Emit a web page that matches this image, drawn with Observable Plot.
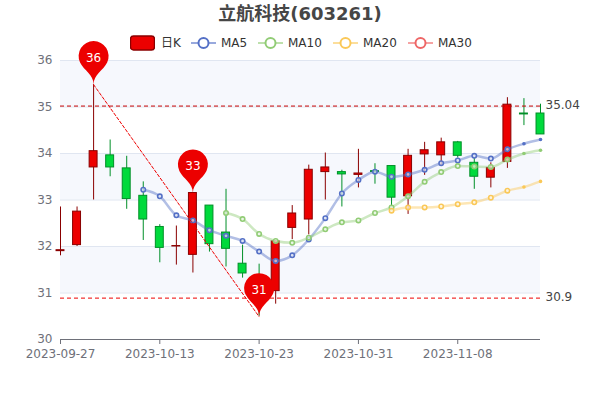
<!DOCTYPE html>
<html>
<head>
<meta charset="utf-8">
<script src="https://cdn.jsdelivr.net/npm/d3@7"></script>
<script src="https://cdn.jsdelivr.net/npm/@observablehq/plot@0.6"></script>
<style>
html,body{margin:0;padding:0;background:#fff;overflow:hidden}
#wrap{position:relative;width:600px;height:400px;font-family:"DejaVu Sans","Noto Sans CJK SC",sans-serif}
#title{position:absolute;left:0;width:600px;top:3px;text-align:center;font-size:18px;font-weight:bold;color:#464646;line-height:22px;font-family:"DejaVu Sans","Noto Sans CJK SC",sans-serif}
.lg{position:absolute;top:35px;height:16px;line-height:16px;font-size:12px;color:#333;white-space:nowrap}
.lg svg{position:absolute;top:0;left:0}
#chart{position:absolute;left:0;top:0}
</style>
</head>
<body>
<div id="wrap"><div id="chart"></div><div id="title">立航科技(603261)</div></div>
<script>
const dates = ["2023-09-27","2023-09-28","2023-10-09","2023-10-10","2023-10-11","2023-10-12","2023-10-13","2023-10-16","2023-10-17","2023-10-18","2023-10-19","2023-10-20","2023-10-23","2023-10-24","2023-10-25","2023-10-26","2023-10-27","2023-10-30","2023-10-31","2023-11-01","2023-11-02","2023-11-03","2023-11-06","2023-11-07","2023-11-08","2023-11-09","2023-11-10","2023-11-13","2023-11-14","2023-11-15"];
const open  = [31.90,32.03,33.70,33.96,33.68,33.09,32.42,32.00,31.82,32.88,32.30,31.63,31.30,31.04,32.40,32.58,33.60,33.60,33.54,33.62,33.73,33.08,33.98,33.96,34.24,33.80,33.48,33.82,34.86,34.86];
const close = [31.92,32.75,34.05,33.70,33.02,32.58,31.97,32.01,33.15,32.05,31.95,31.42,31.05,32.11,32.71,33.65,33.70,33.55,33.57,33.60,33.05,33.95,34.07,34.24,33.95,33.50,33.69,35.05,34.84,34.41];
const high  = [32.85,32.85,35.48,34.29,33.94,33.39,32.47,32.44,33.15,32.88,33.23,32.03,31.62,32.13,32.88,33.75,34.01,33.64,34.09,33.78,33.73,34.09,34.24,34.33,34.26,33.90,33.80,35.20,35.18,35.06];
const low   = [31.80,32.00,33.00,33.50,32.80,32.13,31.65,31.60,31.43,31.88,31.56,31.32,30.50,30.76,32.15,32.25,33.00,32.85,33.26,33.34,32.85,32.69,33.53,33.73,33.90,33.23,33.26,33.68,34.60,34.41];
const ma5  = [null,null,null,null,null,33.22,33.08,32.67,32.56,32.35,32.23,32.12,31.89,31.69,31.81,32.15,32.61,33.14,33.43,33.61,33.50,33.55,33.65,33.79,33.85,33.95,33.89,34.09,34.21,34.30];
const ma10 = [null,null,null,null,null,null,null,null,null,null,32.72,32.59,32.27,32.12,32.08,32.19,32.37,32.52,32.56,32.72,32.84,33.08,33.39,33.60,33.73,33.72,33.71,33.87,34.00,34.07];
const ma20 = [null,null,null,null,null,null,null,null,null,null,null,null,null,null,null,null,null,null,null,null,32.77,32.84,32.84,32.86,32.91,32.95,33.05,33.20,33.28,33.40];
const tickIndex = [0,6,12,18,24];
const yTicks = [30,31,32,33,34,35,36];
const bandStarts = [31,33,35];
const pinIndex = [2,8,12];
const pinValue = [35.48,33.15,30.49];
const pinLabel = ["36","33","31"];
const levelValue = [35.02,30.89];
const levelLabel = ["35.04","30.9"];
const legendNames = ["日K","MA5","MA10","MA20","MA30"];

const UP = "#ec0000", UPB = "#8a0000", DOWN = "#00da3c", DOWNB = "#008f28";
const BLUE = "#5470c6", GREEN = "#91cc75", YELLOW = "#fac858", PINK = "#ee6666";

const idx = d3.range(dates.length);
const isUp = i => close[i] >= open[i];
const halfBody = 0.24;

// ECharts-style "pin": origin is the tip
const pin = {draw(ctx){
  const w=30,h=50,r=w/2,dy=r*r/(h-r),cy=-h+r+dy,a=Math.asin(dy/r),dx=Math.cos(a)*r,tx=Math.sin(a),ty=Math.cos(a),c1=r*.6,c2=r*.7;
  ctx.moveTo(-dx,cy+dy);
  ctx.arc(0,cy,r,Math.PI-a,Math.PI*2+a);
  ctx.bezierCurveTo(dx-tx*c1,cy+dy+ty*c1,0,-c2,0,0);
  ctx.bezierCurveTo(0,-c2,-dx+tx*c1,cy+dy+ty*c1,-dx,cy+dy);
  ctx.closePath();
}};

function maMarks(values, color){
  const pts = idx.filter(i => values[i] != null);
  const lastSmall = i => i >= 28;
  return [
    Plot.line(pts,{x:i=>i,y:i=>values[i],stroke:color,strokeWidth:2.5,strokeOpacity:.45,curve:"monotone-x"}),
    Plot.dot(pts.filter(i=>!lastSmall(i)),{x:i=>i,y:i=>values[i],r:2.2,stroke:color,strokeWidth:1.6,fill:"#fff",fillOpacity:.6}),
    Plot.dot(pts.filter(lastSmall),{x:i=>i,y:i=>values[i],r:1.8,fill:color})
  ];
}

const chart = Plot.plot({
  width:600,height:400,
  marginLeft:60,marginRight:60,marginTop:60,marginBottom:61,
  style:{fontFamily:"DejaVu Sans",fontSize:"12px",background:"#fff",overflow:"visible"},
  x:{domain:[0,dates.length-1],axis:null},
  y:{domain:[30,36],axis:null},
  marks:[
    Plot.rect(bandStarts,{x1:0,x2:dates.length-1,y1:d=>d,y2:d=>d+1,fill:"#f6f8fd"}),
    Plot.ruleY(yTicks.slice(1),{stroke:"#e0e6f1"}),
    Plot.axisY({ticks:yTicks,anchor:"left",tickSize:0,tickPadding:8,tickFormat:d=>String(d),fill:"#6e7079",fontSize:12,label:null}),
    Plot.ruleY([30],{stroke:"#6e7079"}),
    Plot.axisX({ticks:tickIndex,anchor:"bottom",tickSize:5,tickPadding:5,tickFormat:i=>dates[i],stroke:"#6e7079",fill:"#6e7079",fontSize:12,label:null}),
    Plot.ruleX(idx,{x:i=>i,y1:i=>low[i],y2:i=>high[i],stroke:i=>isUp(i)?UPB:DOWNB}),
    Plot.rect(idx,{x1:i=>i-halfBody,x2:i=>i+halfBody,y1:i=>open[i],y2:i=>close[i],fill:i=>isUp(i)?UP:DOWN,stroke:i=>isUp(i)?UPB:DOWNB}),
    ...maMarks(ma5,BLUE),
    ...maMarks(ma10,GREEN),
    ...maMarks(ma20,YELLOW),
    Plot.ruleY(levelValue,{x1:0,x2:dates.length-1,y:d=>d,stroke:(d,i)=>i===0?"#c40000":"#ee0000",strokeDasharray:"4 3"}),
    Plot.text(levelValue,{x:dates.length-1,y:d=>d,text:(d,i)=>levelLabel[i],dx:5,dy:-1,textAnchor:"start",fill:"#444",fontSize:12}),
    Plot.line(pinIndex.filter((d,i)=>i!==1),{x:d=>d,y:d=>pinValue[pinIndex.indexOf(d)],stroke:"#ee0000",strokeWidth:1,strokeDasharray:"3 2"}),
    Plot.dot(pinIndex,{x:d=>d,y:(d,i)=>pinValue[i],symbol:pin,r:10,fill:"#ec0000",stroke:"none"}),
    Plot.text(pinIndex,{x:d=>d,y:(d,i)=>pinValue[i],text:(d,i)=>pinLabel[i],dy:-27,fill:"#fff",fontSize:12})
  ]
});
document.getElementById("chart").appendChild(chart);

const wrap = document.getElementById("wrap");
const legendLeft = [130,191,258,333,408];
const legendColor = [UP,BLUE,GREEN,YELLOW,PINK];
legendNames.forEach((name,i)=>{
  const el = document.createElement("div");
  el.className = "lg";
  el.style.left = legendLeft[i]+"px";
  const icon = i===0
    ? `<rect x="0.5" y="1" width="24" height="14" rx="3" fill="${UP}" stroke="${UPB}" stroke-width="1.4"/>`
    : `<line x1="0" x2="25" y1="8" y2="8" stroke="${legendColor[i]}" stroke-width="2" stroke-opacity=".6"/><circle cx="12.5" cy="8" r="5" fill="#fff" stroke="${legendColor[i]}" stroke-width="2"/>`;
  el.innerHTML = `<svg width="25" height="16">${icon}</svg><span style="position:absolute;left:${i===0?31:30}px">${name}</span>`;
  wrap.appendChild(el);
});
</script>
</body>
</html>
